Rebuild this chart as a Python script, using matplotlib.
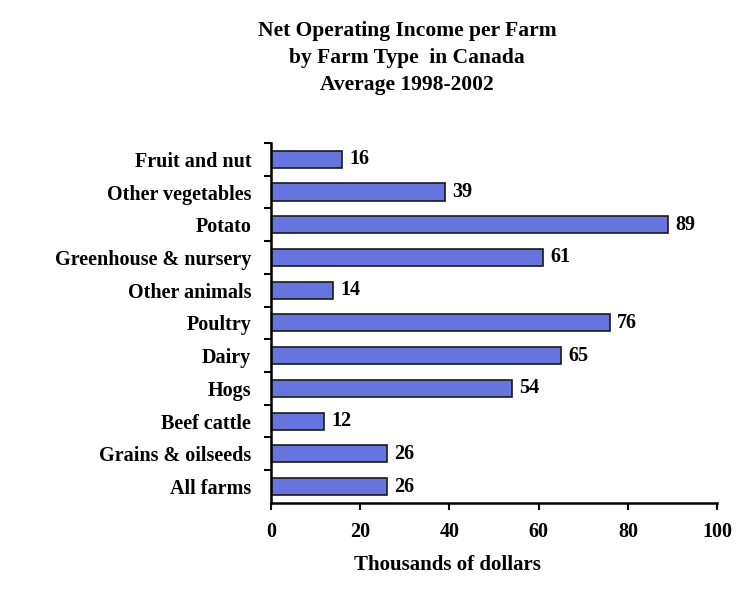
import matplotlib.pyplot as plt

# Data (thousands of dollars)
categories = ['Fruit and nut', 'Other vegetables', 'Potato', 'Greenhouse & nursery',
              'Other animals', 'Poultry', 'Dairy', 'Hogs', 'Beef cattle',
              'Grains & oilseeds', 'All farms']
values = [16, 39, 89, 61, 14, 76, 65, 54, 12, 26, 26]
xticks = [0, 20, 40, 60, 80, 100]

plt.rcParams['font.family'] = ['Liberation Serif', 'DejaVu Serif']
plt.rcParams['font.weight'] = 'bold'

fig = plt.figure(figsize=(7.44, 6.03), dpi=100)
ax = fig.add_axes([0.364, 0.166, 0.6, 0.597])

# top category first
pos = list(range(len(categories)))[::-1]
ax.barh(pos, values, height=0.52, color='#6674DD', edgecolor='#1a1a1a', linewidth=1.2)

for p, v in zip(pos, values):
    ax.text(v + 1.6, p, str(v), va='center', ha='left', fontsize=14.5, fontweight='bold')

ax.set_ylim(-0.5, len(categories) - 0.5)
ax.set_yticks(pos)
ax.set_yticklabels(categories, fontsize=14.5, fontweight='bold')
ax.set_yticks([p + 0.5 for p in range(len(categories))], minor=True)
ax.tick_params(axis='y', which='major', length=0, pad=14)
ax.tick_params(axis='y', which='minor', length=5, width=1.5, direction='out')

ax.set_xlim(0, 100)
ax.set_xticks(xticks)
ax.set_xticklabels([str(t) for t in xticks], fontsize=14.5, fontweight='bold')
ax.tick_params(axis='x', length=5, width=1.5, direction='out', pad=9)

for s in ['top', 'right']:
    ax.spines[s].set_visible(False)
for s in ['left', 'bottom']:
    ax.spines[s].set_linewidth(1.8)

ax.set_xlabel('Thousands of dollars', fontsize=15, fontweight='bold', labelpad=20)
ax.xaxis.set_label_coords(0.395, -0.145)

fig.text(0.547, 0.965, 'Net Operating Income per Farm\nby Farm Type  in Canada\nAverage 1998-2002',
         ha='center', va='top', fontsize=15.5, fontweight='bold', linespacing=1.45)

fig.savefig('out.png', dpi=100)
